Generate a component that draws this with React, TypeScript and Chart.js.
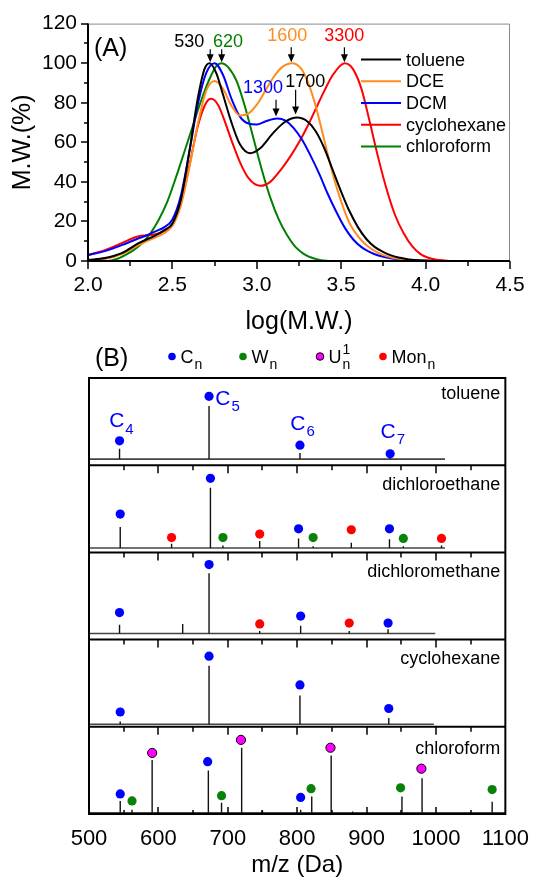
import React, { useEffect, useRef } from 'react';
import { Chart, registerables } from 'chart.js';

Chart.register(...registerables);

const FF = '"Liberation Sans", Arial, Helvetica, sans-serif';

// ---------------- Panel A data ----------------
const seriesNames = ['toluene', 'DCE', 'DCM', 'cyclohexane', 'chloroform'];
const seriesColors = ['#000000', '#ff8c1f', '#0000ff', '#ff0000', '#008000'];

const toluene: [number, number][] = [
  [2.0, 0.5], [2.1, 1.5], [2.2, 4], [2.3, 9], [2.4, 13], [2.45, 15.5], [2.5, 19], [2.55, 31], [2.6, 55],
  [2.65, 82], [2.69, 97], [2.72, 100], [2.76, 95], [2.8, 84], [2.85, 70], [2.9, 59], [2.96, 54.5],
  [3.02, 57], [3.1, 65], [3.17, 70.5], [3.24, 72.5], [3.3, 70.5], [3.35, 65.5], [3.4, 57], [3.45, 46],
  [3.5, 35], [3.55, 25], [3.6, 17], [3.65, 11], [3.7, 7], [3.75, 4.5], [3.8, 2.7], [3.85, 1.6],
  [3.9, 0.8], [4.0, 0.2], [4.1, 0],
];
const dce: [number, number][] = [
  [2.0, 0.3], [2.1, 1], [2.2, 3.5], [2.3, 8], [2.4, 12], [2.45, 14], [2.5, 18], [2.55, 28], [2.6, 47],
  [2.65, 69], [2.7, 86], [2.75, 91], [2.8, 87], [2.85, 78.5], [2.9, 73.5], [2.95, 74.5], [3.0, 79],
  [3.05, 86], [3.1, 93], [3.15, 98], [3.21, 100], [3.26, 97.5], [3.3, 91], [3.35, 78], [3.4, 61],
  [3.45, 44], [3.5, 30], [3.55, 19], [3.6, 12.5], [3.65, 8], [3.7, 5], [3.75, 3], [3.8, 1.8],
  [3.9, 0.6], [4.0, 0.1], [4.1, 0],
];
const dcm: [number, number][] = [
  [2.0, 3], [2.1, 5], [2.2, 8], [2.3, 11.5], [2.35, 13], [2.4, 15], [2.45, 17], [2.5, 21], [2.55, 33],
  [2.6, 55], [2.65, 79], [2.7, 95], [2.75, 100], [2.8, 94], [2.85, 82], [2.9, 73], [2.95, 69.5],
  [3.0, 69], [3.05, 70.5], [3.12, 72], [3.17, 71], [3.22, 67], [3.27, 61], [3.32, 53], [3.37, 44],
  [3.42, 34], [3.47, 25], [3.52, 17], [3.57, 11], [3.62, 7], [3.67, 4.5], [3.72, 2.8], [3.8, 1.3],
  [3.9, 0.4], [4.0, 0.1], [4.1, 0],
];
const cyclohexane: [number, number][] = [
  [2.0, 3], [2.1, 5.5], [2.2, 9], [2.25, 11], [2.3, 12.5], [2.35, 13], [2.4, 13.5], [2.45, 15], [2.5, 18],
  [2.55, 29], [2.6, 48], [2.65, 68], [2.7, 80], [2.73, 82], [2.77, 79], [2.8, 73], [2.85, 61], [2.9, 50],
  [2.95, 42], [3.02, 38], [3.08, 40], [3.15, 47], [3.2, 53], [3.25, 60], [3.3, 68], [3.35, 77], [3.4, 86],
  [3.45, 94], [3.52, 100], [3.57, 97], [3.62, 87], [3.67, 70], [3.72, 52], [3.77, 36], [3.82, 23],
  [3.87, 14], [3.92, 7.5], [3.97, 3.5], [4.02, 1.5], [4.08, 0.5], [4.15, 0],
];
const chloroform: [number, number][] = [
  [2.0, 0], [2.12, 0], [2.17, 1], [2.22, 3], [2.27, 5.5], [2.32, 9], [2.37, 14], [2.42, 21], [2.47, 30],
  [2.52, 42], [2.57, 55], [2.62, 68], [2.67, 81], [2.72, 92], [2.76, 98.5], [2.79, 100], [2.83, 98],
  [2.88, 91], [2.93, 78], [2.98, 62], [3.03, 46], [3.08, 32], [3.13, 21], [3.18, 13], [3.23, 7],
  [3.28, 3.5], [3.33, 1.5], [3.38, 0.4], [3.43, 0],
];
const seriesData = [toluene, dce, dcm, cyclohexane, chloroform];

const xTicksA = [2.0, 2.5, 3.0, 3.5, 4.0, 4.5];
const yTicksA = [0, 20, 40, 60, 80, 100, 120];

// peak annotations: arrow at x (log M), tail/tip in %, label centre (lx, ly)
const peakNotes = [
  { text: '530', color: '#000000', x: 2.724, tail: 107, tip: 100.5, lx: 2.6, ly: 110.5 },
  { text: '620', color: '#008000', x: 2.792, tail: 107, tip: 100.5, lx: 2.83, ly: 110.5 },
  { text: '1600', color: '#ff8c1f', x: 3.204, tail: 108, tip: 100.5, lx: 3.18, ly: 113.5 },
  { text: '3300', color: '#ff0000', x: 3.519, tail: 108, tip: 100.5, lx: 3.518, ly: 113.5 },
  { text: '1300', color: '#0000ff', x: 3.114, tail: 81.5, tip: 73, lx: 3.037, ly: 87.5 },
  { text: '1700', color: '#000000', x: 3.23, tail: 86.5, tip: 74, lx: 3.287, ly: 90.5 },
];

// ---------------- Panel B data ----------------
const panelNames = ['toluene', 'dichloroethane', 'dichloromethane', 'cyclohexane', 'chloroform'];
const baselineLevel = [0.07, 0.05, 0.07, 0.03, 0.015];
const baselineEnd = [1013, 1013, 999, 997, 1100];

const toluenePeaks: [number, number][] = [[544, 0.19], [673, 0.68], [804, 0.14], [934, 0.09]];
const tolueneMarks: [number, number, string][] = [[544, 0.28, 'C'], [673, 0.79, 'C'], [804, 0.23, 'C'], [934, 0.13, 'C']];

const dcePeaks: [number, number][] = [
  [545, 0.29], [619, 0.1], [675, 0.74], [693, 0.08], [746, 0.13], [802, 0.16], [823, 0.07],
  [878, 0.11], [933, 0.15], [953, 0.07], [1008, 0.08],
];
const dceMarks: [number, number, string][] = [
  [545, 0.44, 'C'], [619, 0.17, 'M'], [675, 0.85, 'C'], [693, 0.17, 'W'], [746, 0.21, 'M'], [802, 0.27, 'C'],
  [823, 0.17, 'W'], [878, 0.26, 'M'], [933, 0.27, 'C'], [953, 0.16, 'W'], [1008, 0.16, 'M'],
];

const dcmPeaks: [number, number][] = [
  [544, 0.17], [635, 0.18], [673, 0.76], [746, 0.1], [805, 0.16], [875, 0.1], [931, 0.12],
];
const dcmMarks: [number, number, string][] = [
  [544, 0.31, 'C'], [673, 0.86, 'C'], [746, 0.18, 'M'], [805, 0.27, 'C'], [875, 0.19, 'M'], [931, 0.19, 'C'],
];

const cyclohexanePeaks: [number, number][] = [[545, 0.06], [673, 0.7], [804, 0.36], [932, 0.1]];
const cyclohexaneMarks: [number, number, string][] = [[545, 0.17, 'C'], [673, 0.81, 'C'], [804, 0.48, 'C'], [932, 0.21, 'C']];

const chloroformPeaks: [number, number][] = [
  [545, 0.15], [562, 0.05], [591, 0.62], [672, 0.5], [691, 0.13], [720, 0.76], [750, 0.04], [805, 0.05],
  [821, 0.2], [849, 0.67], [880, 0.03], [951, 0.2], [980, 0.41], [1081, 0.14],
];
const chloroformMarks: [number, number, string][] = [
  [545, 0.23, 'C'], [562, 0.15, 'W'], [591, 0.7, 'U'], [671, 0.6, 'C'], [691, 0.21, 'W'], [719, 0.85, 'U'],
  [805, 0.19, 'C'], [820, 0.29, 'W'], [848, 0.76, 'U'], [949, 0.3, 'W'], [979, 0.52, 'U'], [1081, 0.28, 'W'],
];

const panelPeaks = [toluenePeaks, dcePeaks, dcmPeaks, cyclohexanePeaks, chloroformPeaks];
const panelMarks = [tolueneMarks, dceMarks, dcmMarks, cyclohexaneMarks, chloroformMarks];

// C_n labels in toluene panel: [mz, level, n]
const cLabels: [number, number, string][] = [[540, 0.52, '4'], [693, 0.78, '5'], [801, 0.49, '6'], [931, 0.4, '7']];

const markTypes = ['C', 'W', 'U', 'M'];
const markColors: Record<string, string> = { C: '#0000ff', W: '#0a820a', U: '#ff00ff', M: '#ff0000' };
const legendB = [
  { type: 'C', main: 'C', sup: '', sub: 'n' },
  { type: 'W', main: 'W', sup: '', sub: 'n' },
  { type: 'U', main: 'U', sup: '1', sub: 'n' },
  { type: 'M', main: 'Mon', sup: '', sub: 'n' },
];
const xTicksB = [500, 600, 700, 800, 900, 1000, 1100];

// ---------------- helpers ----------------
function seg(ctx: CanvasRenderingContext2D, x1: number, y1: number, x2: number, y2: number) {
  ctx.beginPath();
  ctx.moveTo(x1, y1);
  ctx.lineTo(x2, y2);
  ctx.stroke();
}

function subText(
  ctx: CanvasRenderingContext2D, x: number, yMid: number, main: string, sub: string, sup: string,
  size: number, subSize: number, color: string, center: boolean,
) {
  ctx.fillStyle = color;
  ctx.textBaseline = 'alphabetic';
  ctx.textAlign = 'left';
  ctx.font = `${size}px ${FF}`;
  const w = ctx.measureText(main).width;
  const x0 = center ? x - w / 2 : x;
  const base = yMid + size * 0.36;
  ctx.fillText(main, x0, base);
  ctx.font = `${subSize}px ${FF}`;
  if (sup) ctx.fillText(sup, x0 + w + 1, base - size * 0.5);
  if (sub) ctx.fillText(sub, x0 + w + 1, base + subSize * 0.42);
}

const panelAPlugin = {
  id: 'panelA',
  afterDraw(chart: any) {
    const { ctx, chartArea: a } = chart;
    const xs = chart.scales.x;
    const ys = chart.scales.y;
    ctx.save();
    ctx.strokeStyle = '#8a8a8a';
    ctx.lineWidth = 1;
    ctx.beginPath();
    ctx.moveTo(a.left, a.top + 0.5);
    ctx.lineTo(a.right - 0.5, a.top + 0.5);
    ctx.lineTo(a.right - 0.5, a.bottom);
    ctx.stroke();

    ctx.strokeStyle = '#000';
    ctx.lineWidth = 1.5;
    for (let v = 0; v <= 120; v += 10) {
      const py = Math.round(ys.getPixelForValue(v));
      const len = v % 20 === 0 ? 7 : 4;
      seg(ctx, a.left - len, py, a.left, py);
    }
    for (let i = 0; i <= 10; i++) {
      const px = Math.round(xs.getPixelForValue(2 + i * 0.25));
      const len = i % 2 === 0 ? 8 : 5;
      seg(ctx, px, a.bottom, px, a.bottom + len);
    }
    ctx.lineWidth = 2;
    seg(ctx, a.left, a.top, a.left, a.bottom + 1);
    seg(ctx, a.left - 1, a.bottom, a.right, a.bottom);

    // arrows and labels
    ctx.lineWidth = 1.2;
    for (const n of peakNotes) {
      const px = xs.getPixelForValue(n.x);
      const y1 = ys.getPixelForValue(n.tail);
      const y2 = ys.getPixelForValue(n.tip);
      ctx.strokeStyle = '#000';
      ctx.fillStyle = '#000';
      seg(ctx, px, y1, px, y2 - 6);
      ctx.beginPath();
      ctx.moveTo(px - 3.5, y2 - 8);
      ctx.lineTo(px + 3.5, y2 - 8);
      ctx.lineTo(px, y2);
      ctx.closePath();
      ctx.fill();
      ctx.fillStyle = n.color;
      ctx.font = `18px ${FF}`;
      ctx.textAlign = 'center';
      ctx.textBaseline = 'middle';
      ctx.fillText(n.text, xs.getPixelForValue(n.lx), ys.getPixelForValue(n.ly));
    }

    // legend
    const lx0 = 361, lx1 = 401;
    seriesNames.forEach((name, i) => {
      const py = a.top + 36 + i * 21.7;
      ctx.strokeStyle = seriesColors[i];
      ctx.lineWidth = 2;
      seg(ctx, lx0, py, lx1, py);
      ctx.fillStyle = '#000';
      ctx.font = `18px ${FF}`;
      ctx.textAlign = 'left';
      ctx.textBaseline = 'middle';
      ctx.fillText(name, lx1 + 5, py + 1);
    });

    ctx.fillStyle = '#000';
    ctx.font = `25px ${FF}`;
    ctx.textAlign = 'left';
    ctx.textBaseline = 'middle';
    ctx.fillText('(A)', a.left + 6, a.top + 26);
    ctx.restore();
  },
};

const nameOffsets = [14, 18, 18, 17.5, 21];

const panelBPlugin = {
  id: 'panelB',
  afterDraw(chart: any) {
    const { ctx, chartArea: a } = chart;
    const xs = chart.scales.x;
    const ys = chart.scales.y;
    ctx.save();
    ctx.strokeStyle = '#000';
    ctx.lineWidth = 2;
    ctx.strokeRect(a.left, a.top, a.right - a.left, a.bottom - a.top);
    for (let k = 1; k < 5; k++) {
      const py = ys.getPixelForValue(k);
      seg(ctx, a.left, py, a.right, py);
    }
    ctx.lineWidth = 1.5;
    for (let k = 1; k < 5; k++) {
      const py = ys.getPixelForValue(k);
      for (let m = 550; m <= 1050; m += 50) {
        const px = Math.round(xs.getPixelForValue(m));
        const len = m % 100 === 0 ? 8 : 5;
        seg(ctx, px, py, px, py + len);
      }
    }
    for (let m = 550; m <= 1050; m += 50) {
      const px = Math.round(xs.getPixelForValue(m));
      const len = m % 100 === 0 ? 7 : 4;
      seg(ctx, px, a.bottom, px, a.bottom - len);
    }

    // panel names
    panelNames.forEach((name, k) => {
      const top = ys.getPixelForValue(5 - k);
      ctx.fillStyle = '#000';
      ctx.font = `18px ${FF}`;
      ctx.textAlign = 'right';
      ctx.textBaseline = 'alphabetic';
      ctx.fillText(name, a.right - 5, top + nameOffsets[k] + 6.5);
    });

    // C_n labels (toluene panel)
    for (const [mz, lvl, n] of cLabels) {
      subText(ctx, xs.getPixelForValue(mz), ys.getPixelForValue(4 + lvl), 'C', n, '', 21, 15, '#0000ff', true);
    }

    // legend
    const top0 = a.top - 21.5;
    ctx.fillStyle = '#000';
    ctx.font = `25px ${FF}`;
    ctx.textAlign = 'left';
    ctx.textBaseline = 'alphabetic';
    ctx.fillText('(B)', 95, top0 + 9);
    const dotX = [172, 243, 320, 383];
    legendB.forEach((it, i) => {
      ctx.beginPath();
      ctx.arc(dotX[i], top0, 3.8, 0, Math.PI * 2);
      ctx.fillStyle = markColors[it.type];
      ctx.fill();
      if (it.type === 'U') {
        ctx.strokeStyle = '#000';
        ctx.lineWidth = 1;
        ctx.stroke();
      }
      subText(ctx, dotX[i] + 8.5, top0, it.main, it.sub, it.sup, 18, 14, '#000', false);
    });
    ctx.restore();
  },
};

export default function App() {
  const refA = useRef<HTMLCanvasElement>(null);
  const refB = useRef<HTMLCanvasElement>(null);

  useEffect(() => {
    const datasetsA = seriesNames.map((name, i) => ({
      label: name,
      data: seriesData[i].map(([x, y]) => ({ x, y })),
      borderColor: seriesColors[i],
      backgroundColor: seriesColors[i],
      borderWidth: 2,
      pointRadius: 0,
      showLine: true,
      fill: false,
      cubicInterpolationMode: 'monotone' as const,
    }));

    const chartA = new Chart(refA.current!, {
      type: 'scatter',
      data: { datasets: datasetsA as any },
      options: {
        responsive: false,
        animation: false,
        devicePixelRatio: 1,
        layout: { padding: { left: 0, right: 31, top: 22, bottom: 0 } },
        plugins: { legend: { display: false }, tooltip: { enabled: false } },
        scales: {
          x: {
            type: 'linear',
            min: 2,
            max: 4.5,
            afterBuildTicks: (s: any) => { s.ticks = xTicksA.map((v) => ({ value: v })); },
            afterFit: (s: any) => { s.height = 79; },
            grid: { display: false, drawTicks: false },
            border: { display: false },
            ticks: {
              color: '#000',
              font: { family: FF, size: 21 },
              padding: 12,
              maxRotation: 0,
              autoSkip: false,
              callback: (v: any) => Number(v).toFixed(1),
            },
            title: { display: true, text: 'log(M.W.)', color: '#000', font: { family: FF, size: 25 }, padding: { top: 0, bottom: 3 } },
          },
          y: {
            type: 'linear',
            min: 0,
            max: 120,
            afterBuildTicks: (s: any) => { s.ticks = yTicksA.map((v) => ({ value: v })); },
            afterFit: (s: any) => { s.width = 88; },
            grid: { display: false, drawTicks: false },
            border: { display: false },
            ticks: { color: '#000', font: { family: FF, size: 21 }, padding: 11, callback: (v: any) => String(v) },
            title: { display: true, text: 'M.W.(%)', color: '#000', font: { family: FF, size: 25 }, padding: { top: 8, bottom: 0 } },
          },
        },
      },
      plugins: [panelAPlugin],
    } as any);

    const datasetsB: any[] = [];
    // markers per type
    markTypes.forEach((t) => {
      const pts: any[] = [];
      panelMarks.forEach((marks, k) => {
        marks.forEach(([mz, lvl, type]) => {
          if (type === t) pts.push({ x: mz, y: 4 - k + lvl });
        });
      });
      datasetsB.push({
        data: pts,
        showLine: false,
        pointRadius: 4.6,
        pointHoverRadius: 4.6,
        backgroundColor: markColors[t],
        borderColor: t === 'U' ? '#000' : markColors[t],
        borderWidth: t === 'U' ? 1 : 0,
        order: 0,
      });
    });
    // sticks
    panelPeaks.forEach((peaks, k) => {
      const y0 = 4 - k;
      const pts: any[] = [];
      peaks.forEach(([mz, h]) => {
        pts.push({ x: mz, y: y0 + baselineLevel[k] }, { x: mz, y: y0 + h }, { x: mz, y: null });
      });
      datasetsB.push({
        data: pts,
        showLine: true,
        spanGaps: false,
        pointRadius: 0,
        borderColor: '#111',
        borderWidth: 1.4,
        order: 1,
      });
      datasetsB.push({
        data: [{ x: 500, y: y0 + baselineLevel[k] }, { x: baselineEnd[k], y: y0 + baselineLevel[k] }],
        showLine: true,
        pointRadius: 0,
        borderColor: '#444',
        borderWidth: 1.6,
        order: 2,
      });
    });

    const chartB = new Chart(refB.current!, {
      type: 'scatter',
      data: { datasets: datasetsB },
      options: {
        responsive: false,
        animation: false,
        devicePixelRatio: 1,
        layout: { padding: { left: 89, right: 29, top: 38, bottom: 0 } },
        plugins: { legend: { display: false }, tooltip: { enabled: false } },
        scales: {
          x: {
            type: 'linear',
            min: 500,
            max: 1100,
            afterBuildTicks: (s: any) => { s.ticks = xTicksB.map((v) => ({ value: v })); },
            afterFit: (s: any) => { s.height = 63; },
            grid: { display: false, drawTicks: false },
            border: { display: false },
            ticks: { color: '#000', font: { family: FF, size: 22 }, padding: 12, maxRotation: 0, autoSkip: false, callback: (v: any) => String(v) },
            title: { display: true, text: 'm/z (Da)', color: '#000', font: { family: FF, size: 24, lineHeight: 1 }, padding: { top: 0, bottom: 0 } },
          },
          y: { type: 'linear', display: false, min: 0, max: 5 },
        },
      },
      plugins: [panelBPlugin],
    } as any);

    return () => {
      chartA.destroy();
      chartB.destroy();
    };
  }, []);

  return (
    <div style={{ position: 'fixed', left: 0, top: 0, width: 541, height: 877, background: '#fff' }}>
      <canvas ref={refA} width={541} height={340} style={{ position: 'absolute', left: 0, top: 0, display: 'block' }} />
      <canvas ref={refB} width={541} height={537} style={{ position: 'absolute', left: 0, top: 340, display: 'block' }} />
    </div>
  );
}
